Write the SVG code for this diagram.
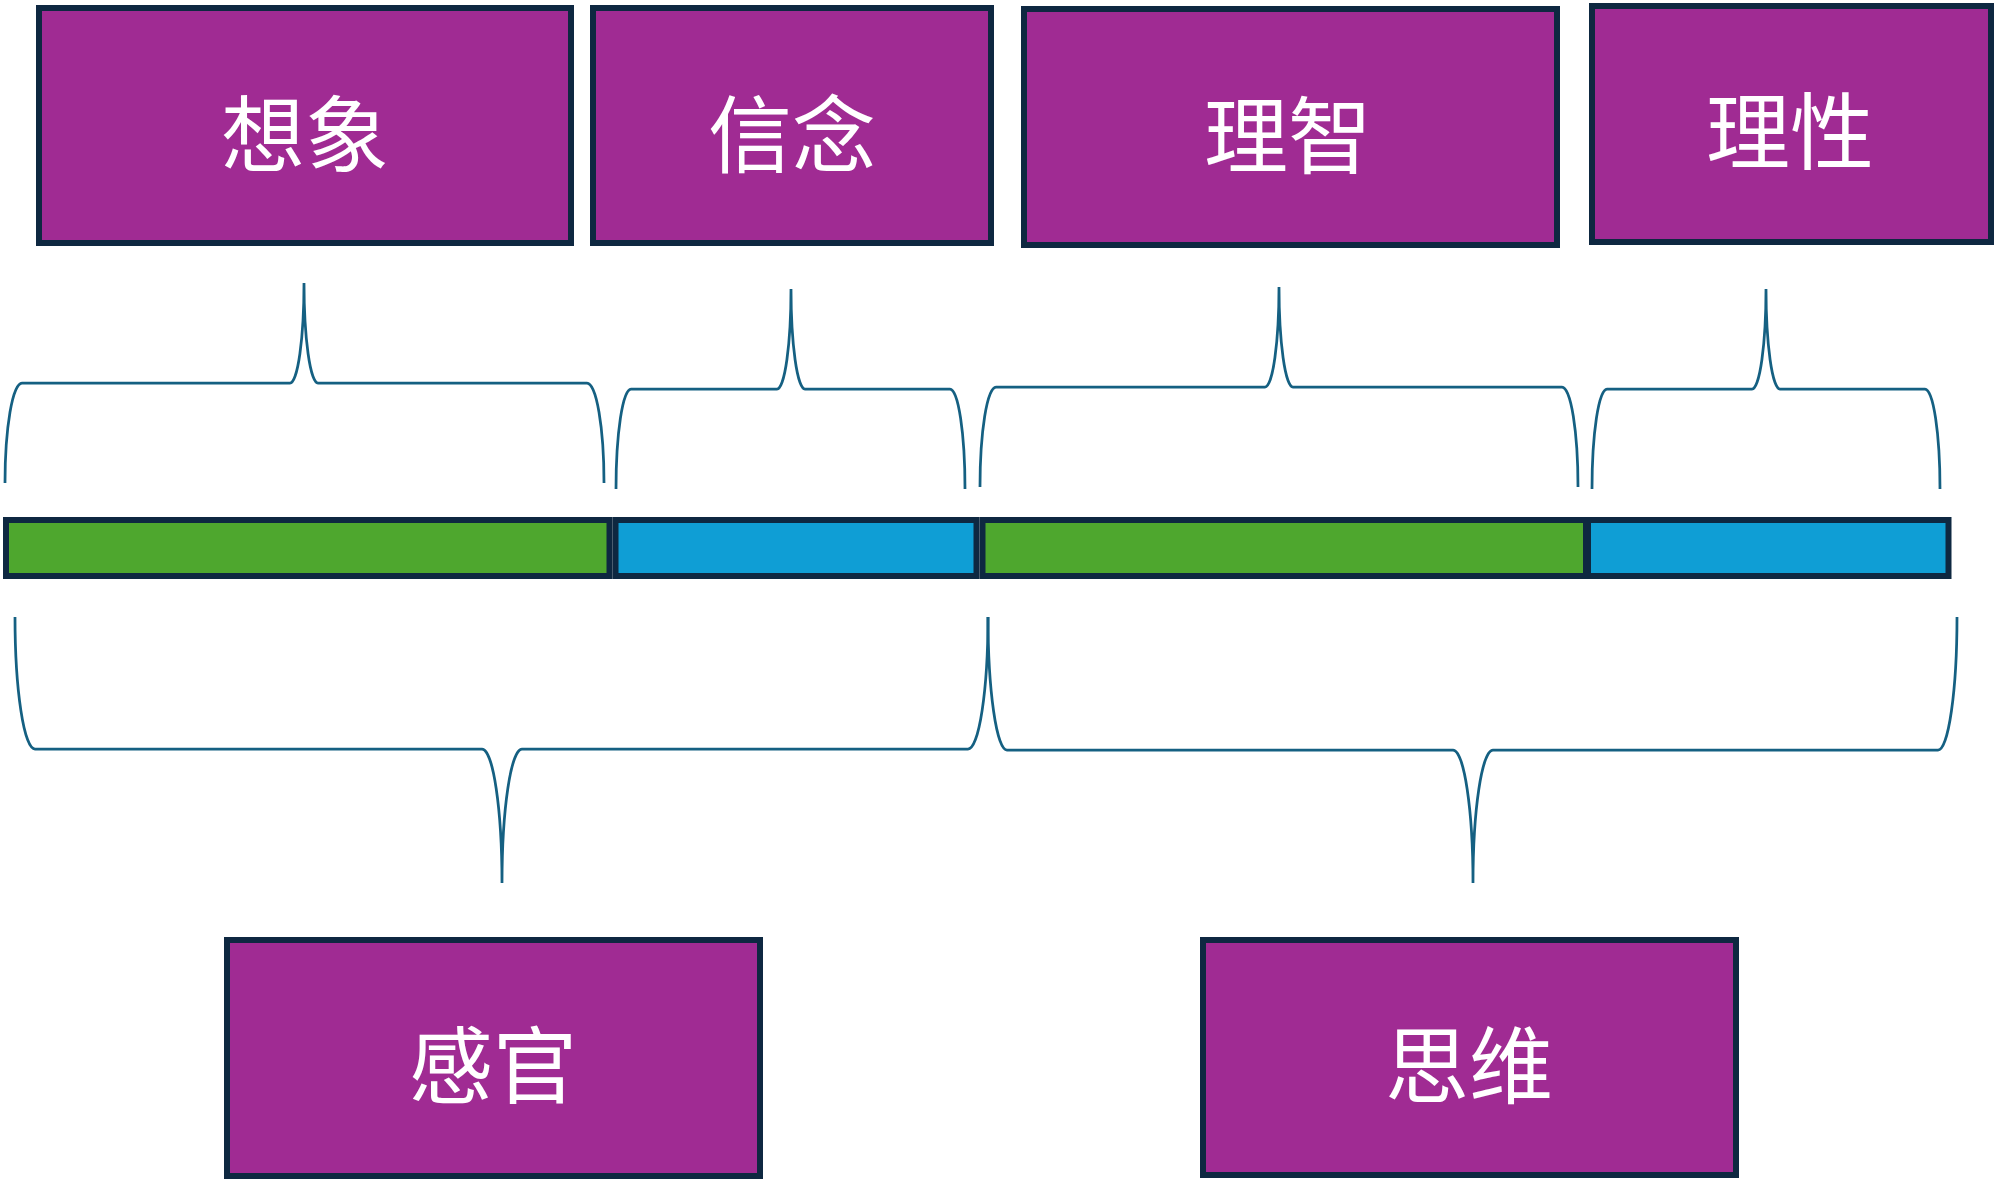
<svg xmlns="http://www.w3.org/2000/svg" width="2000" height="1182" viewBox="0 0 2000 1182">
<style>
.box{fill:#A02B93;stroke:#0E2841;stroke-width:6}
.lbl{font-family:"Noto Sans CJK SC","Noto Sans CJK TC",sans-serif;font-size:84px;fill:#FFFFFF;text-anchor:middle}
.g{fill:#4EA72E;stroke:#0E2841;stroke-width:6}
.b{fill:#0F9ED5;stroke:#0E2841;stroke-width:6}
.br{fill:none;stroke:#156082;stroke-width:2.75}
</style>
<rect width="2000" height="1182" fill="#FFFFFF"/>
<g id="bar">
<rect class="g" x="6" y="520" width="603.5" height="56"/>
<rect class="b" x="615.5" y="520" width="361" height="56"/>
<rect class="g" x="982.5" y="520" width="603.5" height="56"/>
<rect class="b" x="1588" y="520" width="360.5" height="56"/>
</g>
<g id="connectors">
<path class="br" d="M5,483 A17,100 0 0 1 22,383 H290 A14,100 0 0 0 304,283 A14,100 0 0 0 318,383 H587 A17,100 0 0 1 604,483"/>
<path class="br" d="M616,489 A15,100 0 0 1 631,389 H777 A14,100 0 0 0 791,289 A14,100 0 0 0 805,389 H950 A15,100 0 0 1 965,489"/>
<path class="br" d="M980,487 A16,100 0 0 1 996,387 H1265 A14,100 0 0 0 1279,287 A14,100 0 0 0 1293,387 H1562 A16,100 0 0 1 1578,487"/>
<path class="br" d="M1592,489 A15,100 0 0 1 1607,389 H1752 A14,100 0 0 0 1766,289 A14,100 0 0 0 1780,389 H1925 A15,100 0 0 1 1940,489"/>
<path class="br" d="M15,617 A20,132 0 0 0 35,749 H482 A20,134 0 0 1 502,883 A20,134 0 0 1 522,749 H968 A20,132 0 0 0 988,617"/>
<path class="br" d="M988,617 A19,133 0 0 0 1007,750 H1453 A20,133 0 0 1 1473,883 A20,133 0 0 1 1493,750 H1938 A19,133 0 0 0 1957,617"/>
</g>
<g id="n-xiangxiang"><rect class="box" x="39" y="8" width="532" height="235"/><text class="lbl" x="305" y="166">想象</text></g>
<g id="n-xinnian"><rect class="box" x="593" y="8" width="398" height="235"/><text class="lbl" x="792" y="166">信念</text></g>
<g id="n-lizhi"><rect class="box" x="1024" y="9" width="533" height="236"/><text class="lbl" x="1288" y="167">理智</text></g>
<g id="n-lixing"><rect class="box" x="1592" y="6" width="399" height="236"/><text class="lbl" x="1790" y="163">理性</text></g>
<g id="n-ganguan"><rect class="box" x="227" y="940" width="533" height="236"/><text class="lbl" x="493" y="1097">感官</text></g>
<g id="n-siwei"><rect class="box" x="1203" y="940" width="533" height="235"/><text class="lbl" x="1469" y="1097">思维</text></g>
</svg>
